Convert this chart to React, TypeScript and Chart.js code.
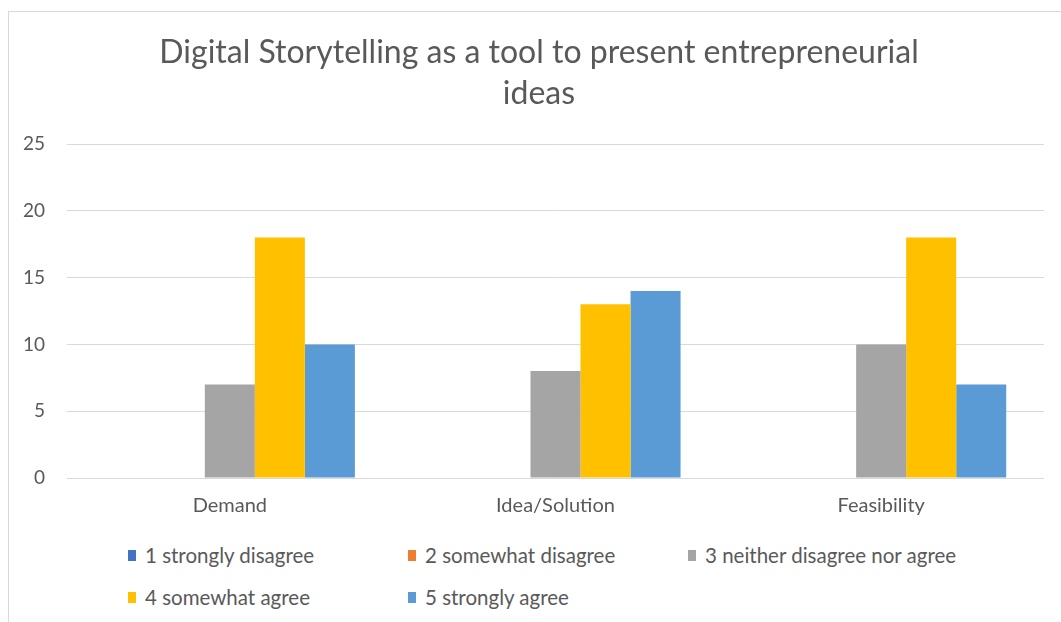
import React, { useEffect, useRef } from "react";
import { Chart, registerables } from "chart.js";

Chart.register(...registerables);

const categories = ["Demand", "Idea/Solution", "Feasibility"];
const seriesNames = [
  "1 strongly disagree",
  "2 somewhat disagree",
  "3 neither disagree nor agree",
  "4 somewhat agree",
  "5 strongly agree",
];
const stronglyDisagree = [0, 0, 0];
const somewhatDisagree = [0, 0, 0];
const neither = [7, 8, 10];
const somewhatAgree = [18, 13, 18];
const stronglyAgree = [10, 14, 7];
const seriesColors = ["#4472C4", "#ED7D31", "#A5A5A5", "#FFC000", "#5B9BD5"];
const titleLines = ["Digital Storytelling as a tool to present entrepreneurial", "ideas"];
const yMin = 0;
const yMax = 25;
const yStep = 5;

const FONT = "Lato, 'Noto Sans', sans-serif";
const TEXT = "#595959";

export default function App() {
  const canvasRef = useRef<HTMLCanvasElement | null>(null);

  useEffect(() => {
    const values = [stronglyDisagree, somewhatDisagree, neither, somewhatAgree, stronglyAgree];
    const chart = new Chart(canvasRef.current as HTMLCanvasElement, {
      type: "bar",
      data: {
        labels: categories,
        datasets: seriesNames.map((name, i) => ({
          label: name,
          data: values[i],
          backgroundColor: seriesColors[i],
          borderWidth: 0,
          barPercentage: 1,
          categoryPercentage: 0.768,
          yAxisID: "y",
        })),
      },
      options: {
        animation: false,
        responsive: false,
        maintainAspectRatio: false,
        layout: { padding: { left: 0, right: 0, top: 0, bottom: 0 } },
        plugins: {
          legend: { display: false },
          tooltip: { enabled: false },
          title: {
            display: true,
            text: titleLines,
            color: TEXT,
            font: { family: FONT, size: 32, weight: "normal", lineHeight: 41 / 32 },
            padding: { top: 20, bottom: 30 },
          },
        },
        scales: {
          x: {
            grid: { display: false, drawTicks: false },
            border: { display: false },
            ticks: { color: TEXT, font: { family: FONT, size: 20 }, padding: 16 },
            afterFit: (s: any) => {
              s.height = 44;
            },
          },
          y: {
            min: yMin,
            max: yMax,
            grid: { color: "#d9d9d9", lineWidth: 1, drawTicks: false },
            border: { display: false },
            ticks: { stepSize: yStep, color: TEXT, font: { family: FONT, size: 19 }, padding: 22 },
            afterFit: (s: any) => {
              s.width = 58;
            },
          },
          yRightSpace: {
            type: "linear",
            position: "right",
            min: yMin,
            max: yMax,
            grid: { display: false, drawTicks: false },
            border: { display: false },
            ticks: { display: false },
            afterFit: (s: any) => {
              s.width = 25;
            },
          },
        },
      },
    });
    return () => chart.destroy();
  }, []);

  return (
    <div
      style={{
        position: "absolute",
        left: 8,
        top: 11,
        width: 1053,
        height: 611,
        boxSizing: "border-box",
        borderTop: "1px solid #d9d9d9",
        borderLeft: "1px solid #d9d9d9",
        background: "#fff",
        overflow: "hidden",
      }}
    >
      <canvas
        ref={canvasRef}
        width={1060}
        height={510}
        style={{ position: "absolute", left: 0, top: 0, width: 1060, height: 510 }}
      />
      <div
        style={{
          position: "absolute",
          left: 119,
          top: 522,
          display: "grid",
          gridTemplateColumns: "280px 280px auto",
          gridAutoRows: "42px",
          fontFamily: FONT,
          fontSize: 20.5,
          color: TEXT,
        }}
      >
        {seriesNames.map((name, i) => (
          <div key={name} style={{ display: "flex", alignItems: "center", whiteSpace: "nowrap" }}>
            <span
              style={{
                display: "inline-block",
                width: 8,
                height: 11,
                background: seriesColors[i],
                marginRight: 9,
              }}
            />
            <span>{name}</span>
          </div>
        ))}
      </div>
    </div>
  );
}
